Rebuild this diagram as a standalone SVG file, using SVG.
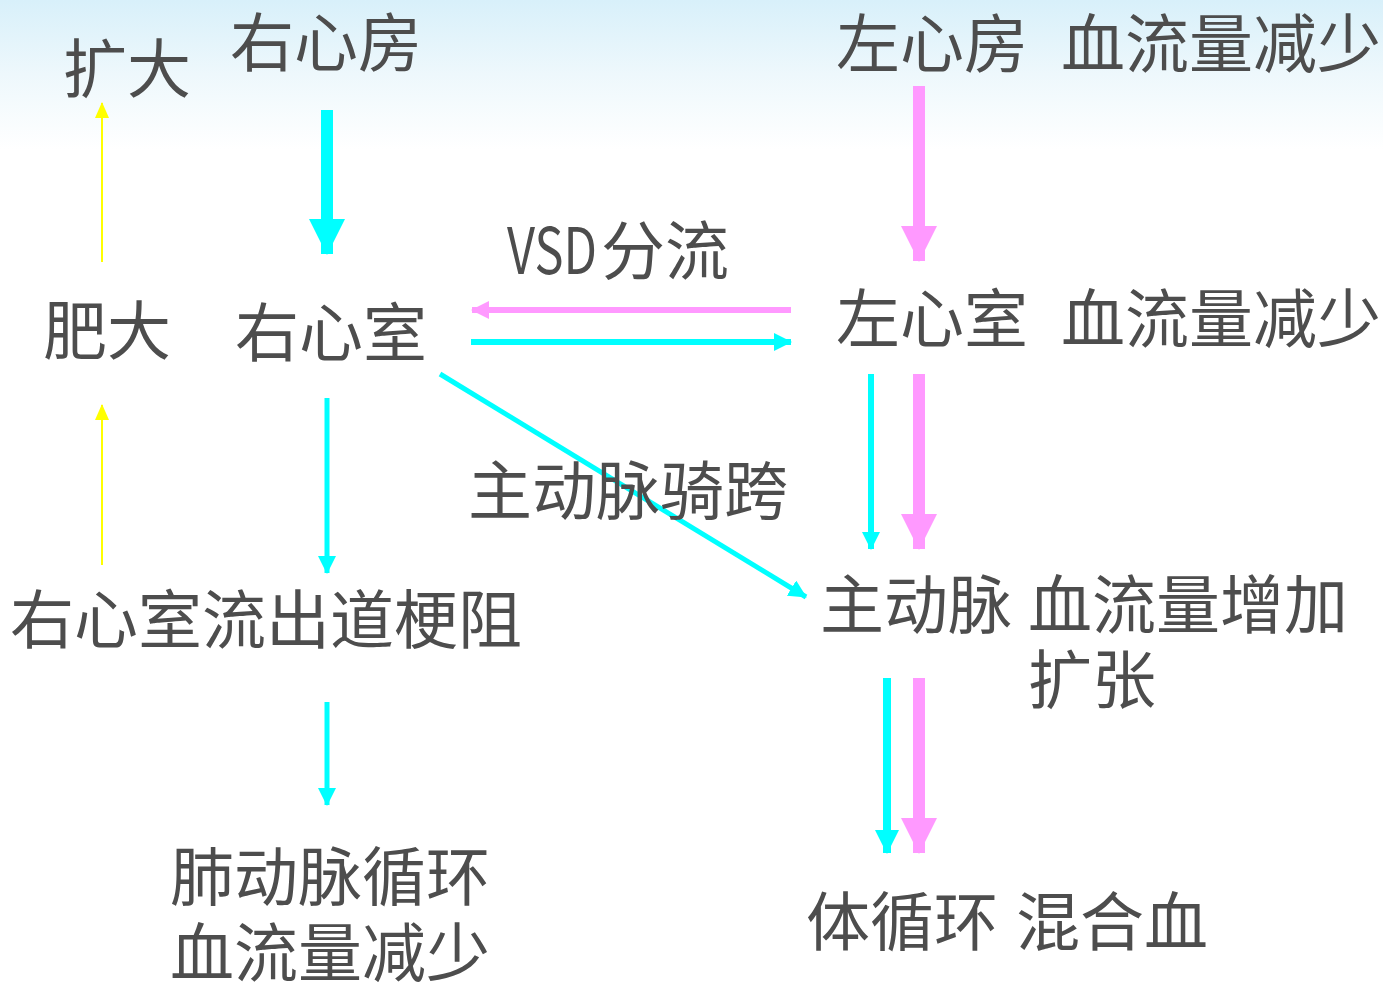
<svg xmlns="http://www.w3.org/2000/svg" width="1383" height="982" viewBox="0 0 1383 982">
<defs>
<linearGradient id="bg" x1="0" y1="0" x2="0" y2="1">
<stop offset="0" stop-color="#d8f0fa"/>
<stop offset="0.5" stop-color="#eef8fc"/>
<stop offset="1" stop-color="#ffffff"/>
</linearGradient>
<marker id="hy" markerUnits="userSpaceOnUse" markerWidth="16" markerHeight="16" refX="15" refY="8" orient="auto"><path d="M0,1 L16,8 L0,15 Z" fill="#ffff00"/></marker>
<marker id="hcB" markerUnits="userSpaceOnUse" markerWidth="36" markerHeight="36" refX="35" refY="18" orient="auto"><path d="M0,0 L36,18 L0,36 Z" fill="#00ffff"/></marker>
<marker id="hpB" markerUnits="userSpaceOnUse" markerWidth="36" markerHeight="36" refX="35" refY="18" orient="auto"><path d="M0,0 L36,18 L0,36 Z" fill="#ff99ff"/></marker>
<marker id="hcS" markerUnits="userSpaceOnUse" markerWidth="18" markerHeight="18" refX="17" refY="9" orient="auto"><path d="M0,0 L18,9 L0,18 Z" fill="#00ffff"/></marker>
<marker id="hpS" markerUnits="userSpaceOnUse" markerWidth="18" markerHeight="18" refX="17" refY="9" orient="auto"><path d="M0,0 L18,9 L0,18 Z" fill="#ff99ff"/></marker>
<marker id="hcM" markerUnits="userSpaceOnUse" markerWidth="24" markerHeight="24" refX="23" refY="12" orient="auto"><path d="M0,0 L24,12 L0,24 Z" fill="#00ffff"/></marker>
</defs>
<style>
text{font-family:"Noto Sans CJK SC","Noto Sans",sans-serif;font-size:64px;fill:#4d4d4d}
.c{stroke:#00ffff;fill:none}
.p{stroke:#ff99ff;fill:none}
.y{stroke:#ffff00;fill:none;stroke-width:2}
</style>
<rect x="0" y="0" width="1383" height="982" fill="#ffffff"/>
<rect x="0" y="0" width="1383" height="150" fill="url(#bg)"/>
<g id="connectors">
<line class="y" x1="102" y1="262" x2="102" y2="103" marker-end="url(#hy)"/>
<line class="y" x1="102" y1="565" x2="102" y2="405" marker-end="url(#hy)"/>
<line class="c" stroke-width="12" x1="327" y1="110" x2="327" y2="254" marker-end="url(#hcB)"/>
<line class="p" stroke-width="12" x1="919" y1="86" x2="919" y2="261" marker-end="url(#hpB)"/>
<line class="p" stroke-width="6" x1="791" y1="310" x2="472" y2="310" marker-end="url(#hpS)"/>
<line class="c" stroke-width="6" x1="471" y1="342" x2="791" y2="342" marker-end="url(#hcS)"/>
<line class="c" stroke-width="5" x1="440" y1="374" x2="806" y2="597" marker-end="url(#hcS)"/>
<line class="c" stroke-width="5" x1="327" y1="398" x2="327" y2="573" marker-end="url(#hcS)"/>
<line class="c" stroke-width="6" x1="871" y1="374" x2="871" y2="549" marker-end="url(#hcS)"/>
<line class="p" stroke-width="12" x1="919" y1="374" x2="919" y2="549" marker-end="url(#hpB)"/>
<line class="c" stroke-width="5" x1="327" y1="702" x2="327" y2="805" marker-end="url(#hcS)"/>
<line class="c" stroke-width="8" x1="887" y1="678" x2="887" y2="853" marker-end="url(#hcM)"/>
<line class="p" stroke-width="12" x1="919" y1="678" x2="919" y2="853" marker-end="url(#hpB)"/>
</g>
<g id="n-kuoda"><text x="63" y="92">扩大</text></g>
<g id="n-rightatrium"><text x="230" y="66">右心房</text></g>
<g id="n-leftatrium"><text x="836" y="67">左心房</text><text x="1061" y="67">血流量减少</text></g>
<g id="n-vsd"><text x="507" y="274" textLength="90" lengthAdjust="spacingAndGlyphs">VSD</text><text x="601" y="274">分流</text></g>
<g id="n-feida"><text x="43" y="354">肥大</text></g>
<g id="n-rightventricle"><text x="235" y="356">右心室</text></g>
<g id="n-leftventricle"><text x="836" y="342">左心室</text><text x="1061" y="342">血流量减少</text></g>
<g id="n-overriding"><text x="468" y="514">主动脉骑跨</text></g>
<g id="n-rvoto"><text x="10" y="643">右心室流出道梗阻</text></g>
<g id="n-aorta"><text x="820" y="628">主动脉</text><text x="1028" y="628">血流量增加</text><text x="1028" y="703">扩张</text></g>
<g id="n-pulmonary"><text x="170" y="900">肺动脉循环</text><text x="170" y="976">血流量减少</text></g>
<g id="n-systemic"><text x="806" y="945">体循环</text><text x="1016" y="945">混合血</text></g>
</svg>
